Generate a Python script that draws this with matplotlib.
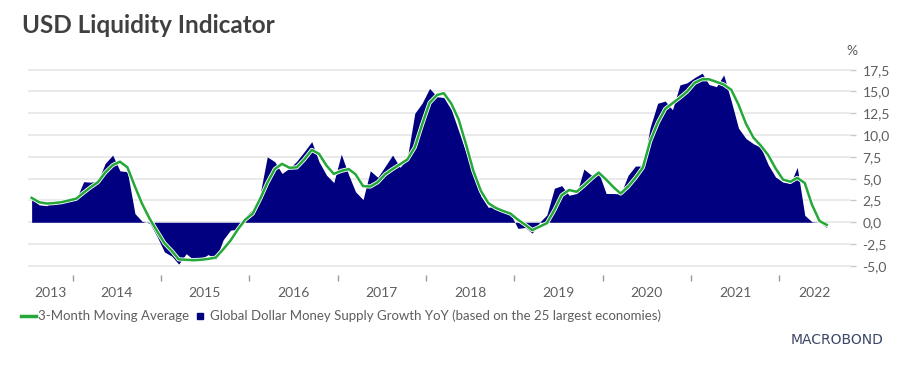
import pandas as pd
import matplotlib.pyplot as plt
import matplotlib.patheffects as pe
from matplotlib.lines import Line2D

plt.rcParams['font.family'] = ['Lato', 'DejaVu Sans']

# Monthly observations, Jul 2013 - Jul 2022 (plotted mid-month)
months = pd.date_range('2013-07-01', '2022-07-01', freq='MS') + pd.Timedelta(days=15)

# Global Dollar Money Supply Growth YoY (%)
supply_growth = [
    2.75, 2.0, 1.9, 2.5, 2.25, 2.4,
    2.6, 4.65, 4.6, 4.7, 6.75, 7.7, 5.9, 5.8, 1.0, 0.1, -0.1, -1.6,
    -3.4, -3.9, -4.8, -3.6, -4.3, -4.2, -3.7, -4.25, -2.0, -0.9, -0.8, 0.65,
    1.5, 3.3, 7.5, 6.95, 5.6, 6.2, 7.0, 8.1, 9.25, 6.95, 5.4, 4.55,
    7.8, 5.4, 3.5, 2.6, 5.9, 5.15, 6.4, 7.7, 6.3, 7.35, 12.5, 13.65,
    15.35, 14.4, 14.3, 12.9, 10.5, 8.0, 5.5, 3.0, 1.7, 1.9, 1.4, 1.0,
    -0.7, -0.6, -1.25, 0.0, 0.85, 3.9, 4.2, 3.1, 3.3, 6.1, 5.4, 5.7,
    3.3, 3.3, 3.25, 5.4, 6.45, 6.45, 10.9, 13.65, 13.9, 12.9, 15.75, 16.0,
    16.6, 17.1, 15.8, 15.55, 16.9, 13.9, 10.8, 9.6, 9.0, 8.6, 6.6, 5.2,
    4.6, 4.45, 6.3, 0.8, 0.05, 0.0, -0.6,
]

# 3-Month Moving Average (%)
moving_avg = [
    2.8, 2.3, 2.15, 2.2, 2.3, 2.5,
    2.7, 3.4, 4.0, 4.6, 5.7, 6.55, 6.95, 6.3, 4.1, 2.1, 0.4, -1.0,
    -2.4, -3.3, -4.25, -4.3, -4.35, -4.3, -4.2, -4.05, -3.1, -2.1, -0.8, 0.3,
    1.0, 2.7, 4.5, 6.1, 6.7, 6.25, 6.3, 7.2, 8.3, 7.85, 6.5, 5.55,
    5.9, 6.1, 5.5, 4.15, 4.1, 4.6, 5.5, 6.1, 6.65, 7.2, 8.6, 11.2,
    13.7, 14.6, 14.8, 13.6, 11.8, 8.9, 5.9, 3.6, 2.2, 1.65, 1.3, 1.0,
    0.3, -0.3, -0.9, -0.5, -0.1, 1.4, 3.1, 3.7, 3.5, 4.2, 5.0, 5.7,
    4.9, 4.0, 3.3, 4.1, 5.1, 6.3, 9.3, 11.4, 13.0, 13.65, 14.3, 15.0,
    16.0, 16.4, 16.4, 16.1, 15.8, 15.2, 13.5, 11.3, 9.7, 8.8, 7.7, 6.2,
    4.9, 4.65, 5.1, 4.5, 2.0, 0.15, -0.3,
]

years = list(range(2013, 2023))
y_ticks = [-5.0, -2.5, 0.0, 2.5, 5.0, 7.5, 10.0, 12.5, 15.0, 17.5]

navy = '#000080'
green = '#25a83a'
grey = '#5e5e5e'

fig = plt.figure(figsize=(9.03, 3.71), dpi=100)
ax = fig.add_axes([28 / 903, 1 - 274.6 / 371, 822 / 903, 218 / 371])

ax.fill_between(months, supply_growth, 0, color=navy, lw=0, zorder=2)
ax.plot(months, moving_avg, color=green, lw=1.8, zorder=3,
        path_effects=[pe.Stroke(linewidth=3.0, foreground='white'), pe.Normal()])

xmin, xmax = pd.Timestamp('2013-07-01'), pd.Timestamp('2022-10-20')
ax.set_xlim(xmin, xmax)
ax.set_ylim(-6, 19)

# y axis on the right, comma decimals
ax.yaxis.tick_right()
ax.set_yticks(y_ticks)
ax.set_yticklabels([f'{v:.1f}'.replace('.', ',') for v in y_ticks])
ax.grid(axis='y', color='#e4e4e4', lw=1.1, zorder=0)
ax.set_axisbelow(True)
ax.tick_params(axis='y', length=4, width=1, color='#c8c8c8', labelsize=10,
               labelcolor=grey, pad=5)

# year boundaries as ticks, year names centred in between
bounds = [pd.Timestamp(f'{y}-01-01') for y in years[1:]]
centres = []
for y in years:
    a = max(xmin, pd.Timestamp(f'{y}-01-01'))
    b = min(xmax, pd.Timestamp(f'{y + 1}-01-01'))
    centres.append(a + (b - a) / 2)
ax.set_xticks(bounds)
ax.set_xticklabels([])
ax.set_xticks(centres, minor=True)
ax.set_xticklabels([str(y) for y in years], minor=True)
ax.tick_params(axis='x', which='major', length=4, width=1, color='#9a9a9a')
ax.tick_params(axis='x', which='minor', length=0, labelsize=10,
               labelcolor=grey, pad=9)

for s in ax.spines.values():
    s.set_visible(False)

fig.text(852 / 903, 1 - 50.7 / 371, '%', fontsize=10, color=grey,
         ha='center', va='center')
fig.text(22 / 903, 1 - 33 / 371, 'USD Liquidity Indicator', fontsize=17.5,
         fontweight='bold', color='#404040', va='baseline')

handles = [Line2D([], [], color=green, lw=2.5),
           Line2D([], [], marker='s', ls='none', color=navy, markersize=4.5)]
labels = ['3-Month Moving Average',
          'Global Dollar Money Supply Growth YoY (based on the 25 largest economies)']
fig.legend(handles, labels, loc='center left',
           bbox_to_anchor=(21 / 903, 1 - 316 / 371), ncol=2, frameon=False,
           fontsize=9.5, handlelength=1.1, handletextpad=0.2,
           columnspacing=0.3, borderpad=0, borderaxespad=0, labelcolor=grey)

fig.text(837 / 903, 1 - 340 / 371, 'MACROBOND', fontsize=10,
         family='DejaVu Sans', color='#3b4668', ha='center', va='center')

fig.savefig('out.png', dpi=100)
